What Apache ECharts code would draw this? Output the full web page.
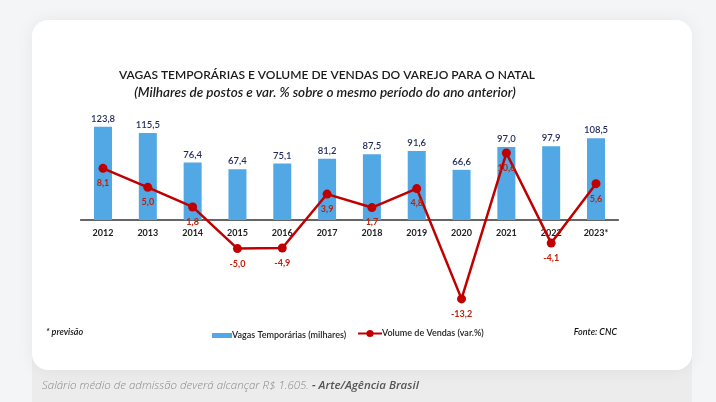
<!DOCTYPE html>
<html>
<head>
<meta charset="utf-8">
<script src="https://cdn.jsdelivr.net/npm/echarts@6/dist/echarts.min.js"></script>
<style>
  html, body { margin: 0; padding: 0; background: #f4f5f7; }
  #chart { width: 716px; height: 402px; }
</style>
</head>
<body>
<div id="chart"></div>
<script>
// ---- data ----
const categories = ['2012', '2013', '2014', '2015', '2016', '2017', '2018', '2019', '2020', '2021', '2022', '2023*'];
const vagasTemporarias = [123.8, 115.5, 76.4, 67.4, 75.1, 81.2, 87.5, 91.6, 66.6, 97.0, 97.9, 108.5];
const volumeVendas = [8.1, 5.0, 1.8, -5.0, -4.9, 3.9, 1.7, 4.8, -13.2, 10.6, -4.1, 5.6];

const titleText = 'VAGAS TEMPORÁRIAS E VOLUME DE VENDAS DO VAREJO PARA O NATAL';
const subtitleText = '(Milhares de postos e var. % sobre o mesmo período do ano anterior)';
const seriesNames = ['Vagas Temporárias (milhares)', 'Volume de Vendas (var.%)'];
const noteText = '* previsão';
const sourceText = 'Fonte: CNC';
const captionText = 'Salário médio de admissão deverá alcançar R$ 1.605.';
const captionCredit = ' - Arte/Agência Brasil';

const fmt = v => v.toFixed(1).replace('.', ',');
const FONT = 'Lato, "Liberation Sans", sans-serif';

const chart = echarts.init(document.getElementById('chart'));
chart.setOption({
  animation: false,
  backgroundColor: '#f4f5f7',
  textStyle: { fontFamily: FONT },
  graphic: [
    { type: 'rect', z: -11, shape: { x: 32, y: 355, width: 660, height: 47 },
      style: { fill: '#ececec' } },
    { type: 'rect', z: -10, shape: { x: 32, y: 20, width: 660, height: 350, r: 16 },
      style: { fill: '#ffffff', shadowBlur: 18, shadowColor: 'rgba(0,0,0,0.06)' } },
    { type: 'text', z: 10,
      style: { x: 327, y: 75, text: titleText, fill: '#1a1a1a', font: '600 12px ' + FONT,
               textAlign: 'center', textVerticalAlign: 'middle' } },
    { type: 'text', z: 10,
      style: { x: 325, y: 93, text: subtitleText, fill: '#1a1a1a', font: 'italic 600 13.5px ' + FONT,
               textAlign: 'center', textVerticalAlign: 'middle' } },
    { type: 'text', z: 10,
      style: { x: 46, y: 332, text: noteText, fill: '#111', font: 'italic 600 9px ' + FONT,
               textAlign: 'left', textVerticalAlign: 'middle' } },
    { type: 'text', z: 10,
      style: { x: 617, y: 332, text: sourceText, fill: '#111', font: 'italic 600 9px ' + FONT,
               textAlign: 'right', textVerticalAlign: 'middle' } },
    { type: 'text', z: 10,
      style: { x: 42, y: 386, textVerticalAlign: 'middle',
               text: '{a|' + captionText + '}{b|' + captionCredit + '}',
               rich: {
                 a: { font: 'italic 300 11.5px "Open Sans", sans-serif', fill: '#8a8a8a' },
                 b: { font: 'italic 600 11.5px "Open Sans", sans-serif', fill: '#555555' }
               } } }
  ],
  legend: [
    { data: [seriesNames[0]], left: 207, top: 326, itemWidth: 20, itemHeight: 5, itemGap: 0,
      icon: 'rect', textStyle: { fontSize: 9, fontWeight: 600, color: '#222', padding: [0, 0, 0, -5] } },
    { data: [seriesNames[1]], left: 352, top: 324, itemWidth: 24, itemHeight: 9, itemGap: 0,
      textStyle: { fontSize: 9, fontWeight: 600, color: '#222', padding: [0, 0, 0, -5] } }
  ],
  grid: { left: 80.6, right: 97.6, top: 100, bottom: 182 },
  xAxis: {
    type: 'category', data: categories,
    axisLine: { lineStyle: { color: '#333', width: 1.5 } },
    axisTick: { show: false },
    axisLabel: { fontSize: 9, fontWeight: 700, color: '#222', margin: 9 }
  },
  yAxis: [
    { type: 'value', min: 0, max: 159.4, show: false, splitLine: { show: false } },
    { type: 'value', min: -0.33, max: 19.25, show: false, splitLine: { show: false } }
  ],
  series: [
    { name: seriesNames[0], type: 'bar', yAxisIndex: 0, data: vagasTemporarias, barWidth: 18,
      itemStyle: { color: '#52a8e4' },
      label: { show: true, position: 'top', distance: 3, fontSize: 9.5, fontWeight: 600, color: '#1f2a5c',
               formatter: p => fmt(p.value) } },
    { name: seriesNames[1], type: 'line', yAxisIndex: 1, data: volumeVendas, z: 5, clip: false,
      symbol: 'circle', symbolSize: 9,
      lineStyle: { color: '#c00000', width: 2.5 }, itemStyle: { color: '#c00000' },
      label: { show: true, position: 'bottom', distance: 6, fontSize: 9, fontWeight: 700, color: '#c0200a',
               formatter: p => fmt(p.value) } }
  ]
});
</script>
</body>
</html>
